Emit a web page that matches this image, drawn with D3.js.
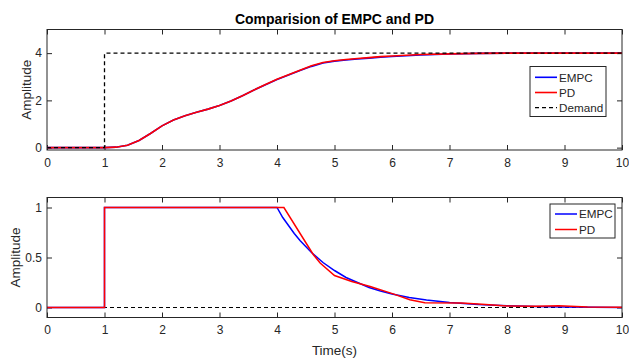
<!DOCTYPE html>
<html>
<head>
<meta charset="utf-8">
<script src="https://cdn.jsdelivr.net/npm/d3@7"></script>
<style>
  html, body { margin: 0; padding: 0; background: #fff; }
  svg { display: block; font-family: "Liberation Sans", Arial, sans-serif; }
</style>
</head>
<body>
<svg id="chart" width="629" height="362"></svg>
<script>
// Output response (top panel)
const timeTop   = [0, 1, 1.2, 1.4, 1.6, 1.8, 2.0, 2.2, 2.4, 2.6, 2.8, 3.0, 3.2, 3.4, 3.6, 3.8, 4.0, 4.2, 4.4, 4.6, 4.8, 5.0, 5.2, 5.4, 5.6, 5.8, 6.0, 6.5, 7.0, 7.5, 8.0, 9.0, 10];
const empcTop   = [0, 0, 0.02, 0.1, 0.3, 0.6, 0.92, 1.17, 1.35, 1.5, 1.63, 1.78, 1.97, 2.2, 2.44, 2.66, 2.88, 3.07, 3.26, 3.44, 3.58, 3.66, 3.71, 3.75, 3.79, 3.83, 3.86, 3.92, 3.96, 3.99, 4.0, 4.0, 4.0];
const pdTop     = [0, 0, 0.02, 0.1, 0.3, 0.6, 0.92, 1.17, 1.35, 1.5, 1.63, 1.78, 1.97, 2.2, 2.44, 2.67, 2.89, 3.08, 3.28, 3.47, 3.6, 3.68, 3.73, 3.77, 3.81, 3.85, 3.88, 3.94, 3.97, 3.99, 4.0, 4.0, 4.0];
const demandTopT = [0, 1, 1, 10];
const demandTopV = [0, 0, 4, 4];

// Control signal (bottom panel)
const empcBotT = [0, 1, 1, 4.0, 4.1, 4.2, 4.3, 4.4, 4.5, 4.6, 4.8, 5.0, 5.2, 5.4, 5.6, 5.8, 6.0, 6.3, 6.6, 7.0, 7.5, 8.0, 8.5, 9.0, 9.5, 10];
const empcBotV = [0, 0, 1, 1, 0.9, 0.82, 0.74, 0.67, 0.61, 0.55, 0.45, 0.37, 0.3, 0.25, 0.2, 0.165, 0.135, 0.1, 0.075, 0.05, 0.03, 0.018, 0.01, 0.006, 0.003, 0.001];
const pdBotT   = [0, 1, 1, 4.12, 4.63, 4.75, 5.0, 5.3, 5.62, 6.02, 6.31, 6.57, 7.2, 7.5, 8.0, 8.5, 8.9, 9.4, 10];
const pdBotV   = [0, 0, 1, 1, 0.53, 0.445, 0.32, 0.26, 0.21, 0.136, 0.077, 0.047, 0.045, 0.035, 0.015, 0.012, 0.018, 0.006, 0.002];
const demandBotT = [0, 10];
const demandBotV = [0, 0];

const xTicks = [0, 1, 2, 3, 4, 5, 6, 7, 8, 9, 10];
const yTicksTop = [0, 2, 4];
const yTicksBot = [0, 0.5, 1];

const titleText = "Comparision of EMPC and PD";
const xLabel = "Time(s)";
const yLabel = "Amplitude";

const BLUE = "#0000ff", RED = "#ff0000", AXIS = "#262626";

const svg = d3.select("#chart");
const left = 47, right = 622;

function panel(cfg) {
  const x = d3.scaleLinear().domain([0, 10]).range([left, right]);
  const y = d3.scaleLinear().domain(cfg.yDomain).range([cfg.bottom, cfg.top]);
  const g = svg.append("g");
  const h = cfg.bottom - cfg.top;

  // Axes with inward ticks on all four sides
  const ax = (a) => a.tickSizeInner(-5).tickSizeOuter(0).tickPadding(8);
  g.append("g").attr("transform", `translate(0,${cfg.bottom})`)
    .call(ax(d3.axisBottom(x).tickValues(xTicks).tickFormat(d3.format("d"))));
  g.append("g").attr("transform", `translate(0,${cfg.top})`)
    .call(ax(d3.axisTop(x).tickValues(xTicks)).tickFormat(""));
  g.append("g").attr("transform", `translate(${left},0)`)
    .call(ax(d3.axisLeft(y).tickValues(cfg.yTicks).tickFormat(d => String(d))).tickPadding(5));
  g.append("g").attr("transform", `translate(${right},0)`)
    .call(ax(d3.axisRight(y).tickValues(cfg.yTicks)).tickFormat(""));
  g.selectAll(".domain").remove();
  g.selectAll(".tick line").attr("stroke", AXIS).attr("stroke-width", 1);
  g.selectAll(".tick text").attr("fill", AXIS).style("font-size", "12px");

  const line = (ts, vs) => d3.line().x((d, i) => x(ts[i])).y(d => y(d))(vs);
  const clipId = "clip" + Math.round(cfg.top);
  svg.append("clipPath").attr("id", clipId).append("rect")
    .attr("x", left).attr("y", cfg.top).attr("width", right - left).attr("height", h);
  const plot = g.append("g").attr("clip-path", `url(#${clipId})`);
  cfg.series.forEach(s => {
    plot.append("path").attr("d", line(s.t, s.v)).attr("fill", "none")
      .attr("stroke", s.color).attr("stroke-width", s.width)
      .attr("stroke-dasharray", s.dash || null);
  });

  g.append("rect").attr("x", left).attr("y", cfg.top)
    .attr("width", right - left).attr("height", h)
    .attr("fill", "none").attr("stroke", AXIS).attr("stroke-width", 1);

  g.append("text").attr("transform", `translate(${cfg.ylabelX},${(cfg.top + cfg.bottom) / 2}) rotate(-90)`)
    .attr("text-anchor", "middle").attr("fill", AXIS).style("font-size", "13.5px").text(yLabel);

  // Legend
  const L = cfg.legend;
  const lg = g.append("g");
  lg.append("rect").attr("x", L.x).attr("y", L.y).attr("width", L.w).attr("height", L.h)
    .attr("fill", "#fff").attr("stroke", AXIS).attr("stroke-width", 1);
  L.items.forEach((it, i) => {
    const cy = L.y + L.first + i * L.step;
    lg.append("line").attr("x1", L.x + 5).attr("x2", L.x + 27).attr("y1", cy).attr("y2", cy)
      .attr("stroke", it.color).attr("stroke-width", it.width).attr("stroke-dasharray", it.dash || null);
    lg.append("text").attr("x", L.x + 29).attr("y", cy + 4.3).attr("fill", AXIS)
      .style("font-size", "11.7px").text(it.name);
  });
}

panel({
  top: 29.5, bottom: 150, yDomain: [-0.1, 5], yTicks: yTicksTop, ylabelX: 31,
  series: [
    { t: timeTop, v: empcTop, color: BLUE, width: 1.6 },
    { t: timeTop, v: pdTop, color: RED, width: 1.6 },
    { t: demandTopT, v: demandTopV, color: "#000", width: 1.3, dash: "4,3" }
  ],
  legend: { x: 530, y: 66.5, w: 76, h: 50, first: 10.8, step: 15.2, items: [
    { name: "EMPC", color: BLUE, width: 1.6 },
    { name: "PD", color: RED, width: 1.6 },
    { name: "Demand", color: "#000", width: 1.3, dash: "4,3" }
  ]}
});

panel({
  top: 197.5, bottom: 317.5, yDomain: [-0.1, 1.1], yTicks: yTicksBot, ylabelX: 20,
  series: [
    { t: demandBotT, v: demandBotV, color: "#000", width: 1.1, dash: "4,3" },
    { t: empcBotT, v: empcBotV, color: BLUE, width: 1.5 },
    { t: pdBotT, v: pdBotV, color: RED, width: 1.5 }
  ],
  legend: { x: 550, y: 204, w: 65, h: 34, first: 10, step: 15.5, items: [
    { name: "EMPC", color: BLUE, width: 1.5 },
    { name: "PD", color: RED, width: 1.5 }
  ]}
});

svg.append("text").attr("x", (left + right) / 2).attr("y", 24)
  .attr("text-anchor", "middle").attr("fill", "#000").style("font-size", "14px")
  .style("font-weight", "bold").text(titleText);

svg.append("text").attr("x", (left + right) / 2).attr("y", 355)
  .attr("text-anchor", "middle").attr("fill", AXIS).style("font-size", "13.5px").text(xLabel);
</script>
</body>
</html>
